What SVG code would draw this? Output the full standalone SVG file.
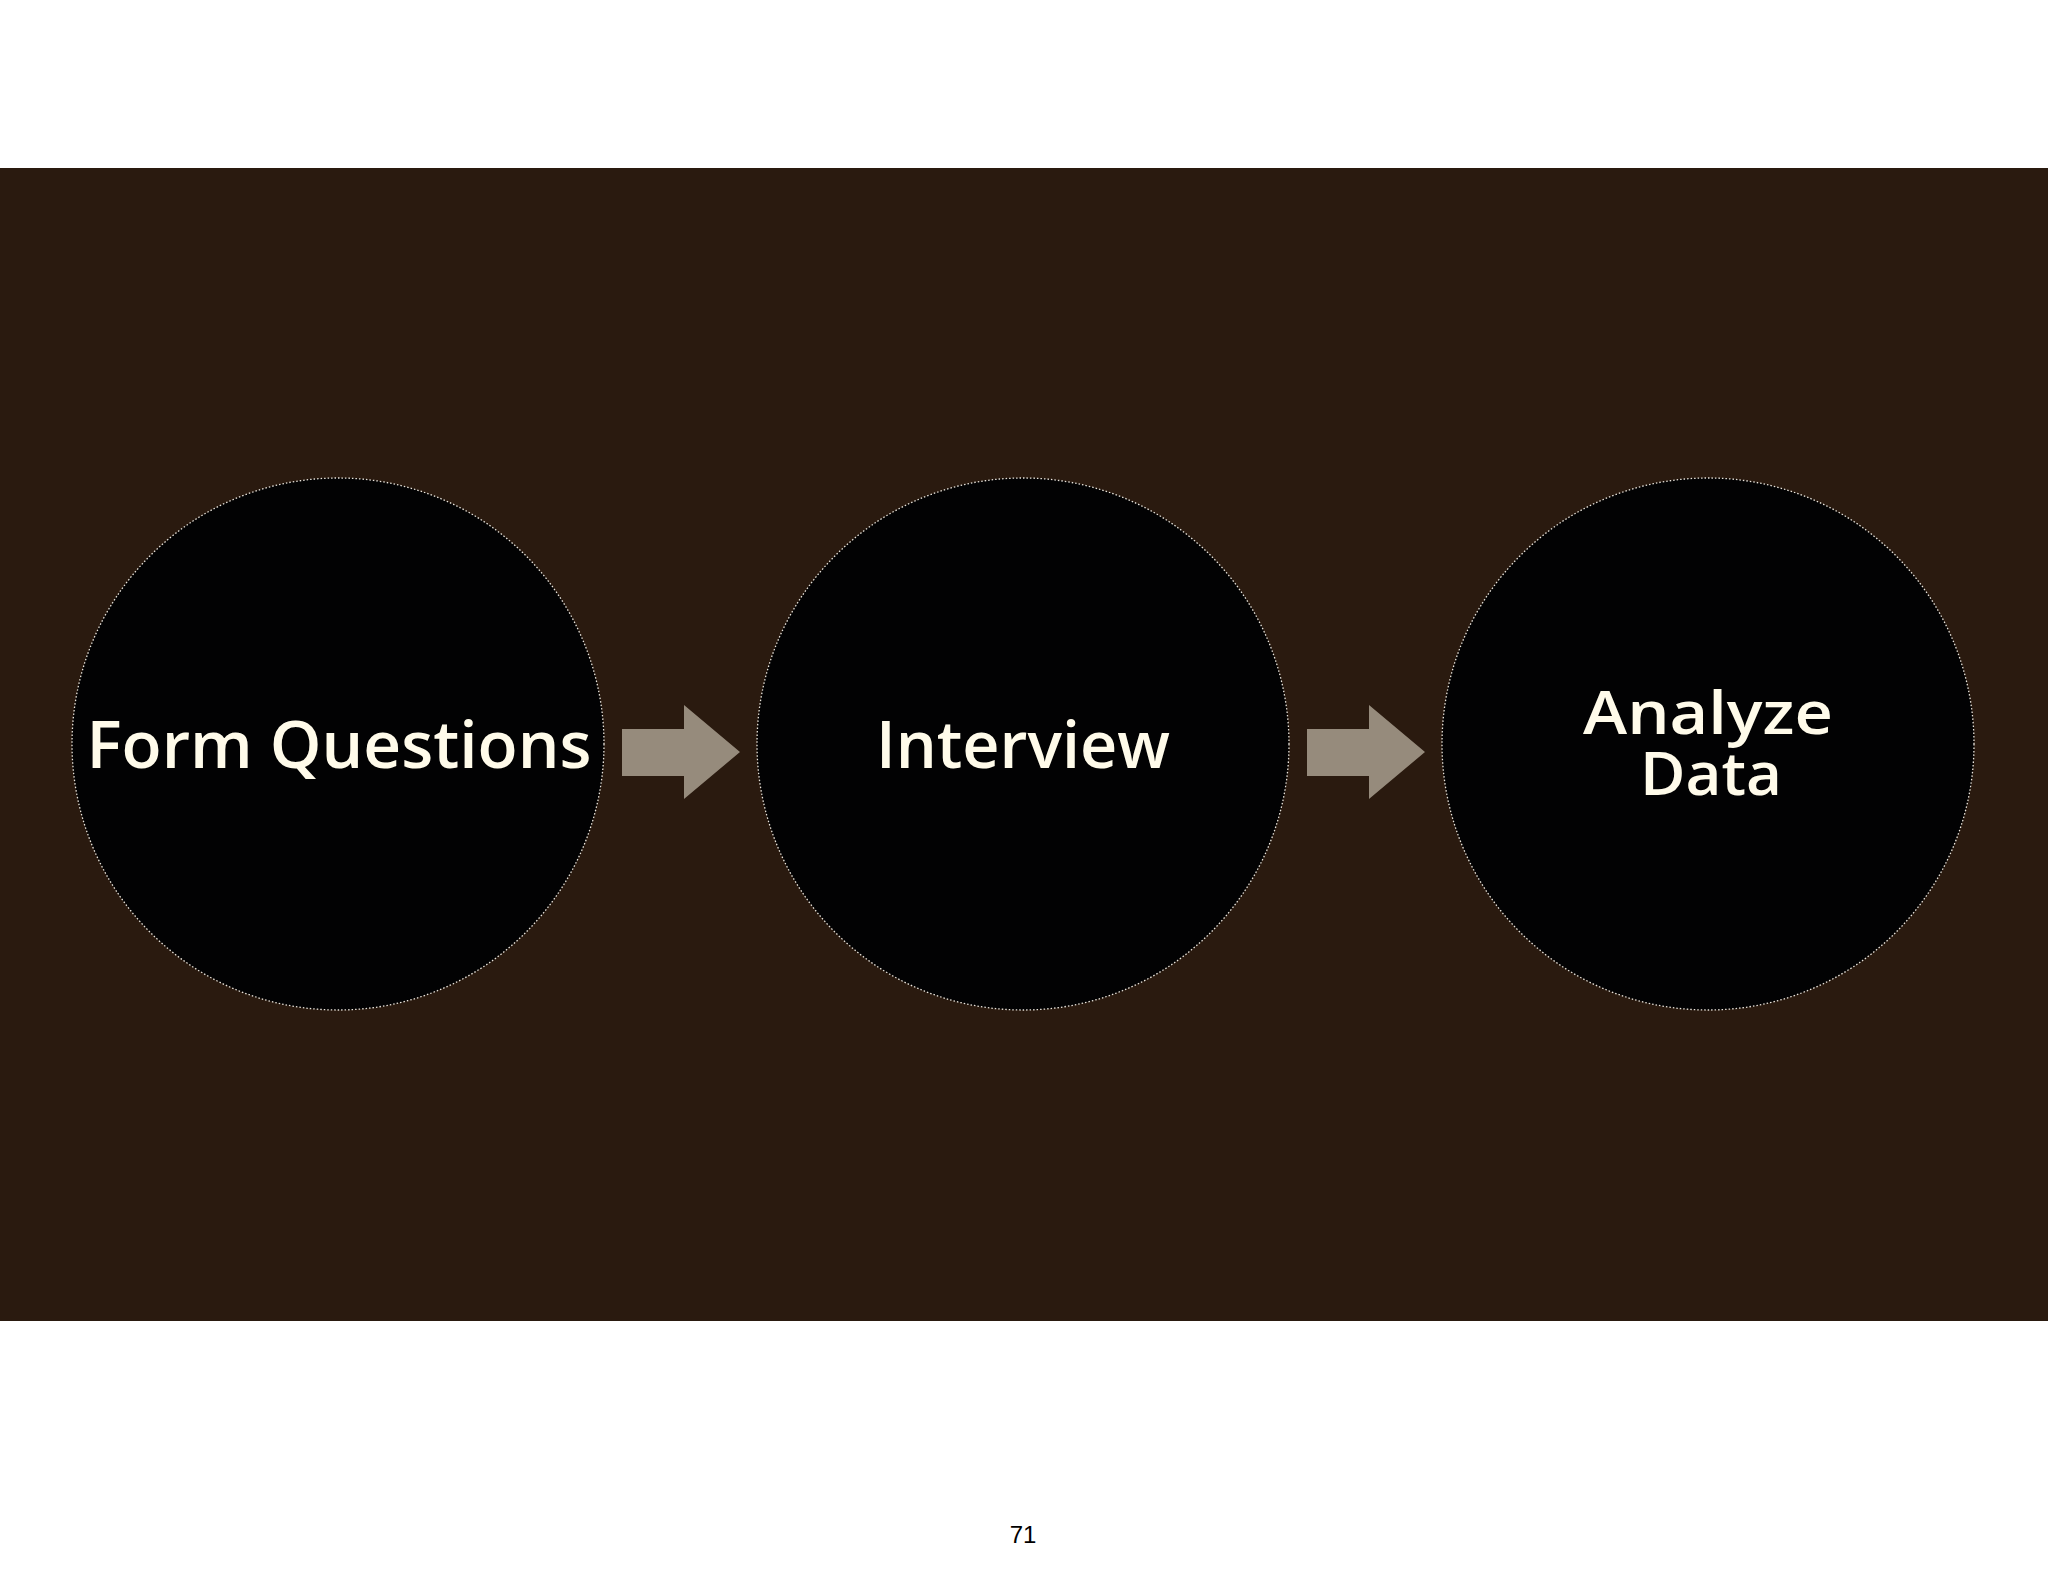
<svg xmlns="http://www.w3.org/2000/svg" width="2048" height="1582" viewBox="0 0 2048 1582">
<style>
.node circle{fill:#020203;stroke:#e8e4dc;stroke-width:1.3;stroke-dasharray:1.5 2}
.lbl{font-family:"Open Sans","Liberation Sans",sans-serif;font-weight:600;font-size:66px;fill:#fffbea;text-anchor:middle}
.sm{font-size:60px}
.arrow{fill:#968b7c}
.pg{font-family:"Liberation Sans",Arial,sans-serif;font-size:24px;fill:#000;text-anchor:middle}
</style>
<rect x="0" y="0" width="2048" height="1582" fill="#ffffff"/>
<rect x="0" y="168" width="2048" height="1153" fill="#2a1a0f"/>
<g id="node-form-questions" class="node">
<circle cx="338" cy="744" r="266"/>
<text class="lbl" x="339" y="768" textLength="505" lengthAdjust="spacingAndGlyphs">Form Questions</text>
</g>
<g id="node-interview" class="node">
<circle cx="1023" cy="744" r="266"/>
<text class="lbl" x="1023" y="768" textLength="294" lengthAdjust="spacingAndGlyphs">Interview</text>
</g>
<g id="node-analyze-data" class="node">
<circle cx="1708" cy="744" r="266"/>
<text class="lbl sm" x="1708" y="734" textLength="250" lengthAdjust="spacingAndGlyphs">Analyze</text>
<text class="lbl sm" x="1711" y="795" textLength="142" lengthAdjust="spacingAndGlyphs">Data</text>
</g>
<g id="connectors">
<polygon class="arrow" points="622,729 684,729 684,705 740,752 684,799 684,776 622,776"/>
<polygon class="arrow" points="1307,729 1369,729 1369,705 1425,752 1369,799 1369,776 1307,776"/>
</g>
<text class="pg" x="1023" y="1543">71</text>
</svg>
